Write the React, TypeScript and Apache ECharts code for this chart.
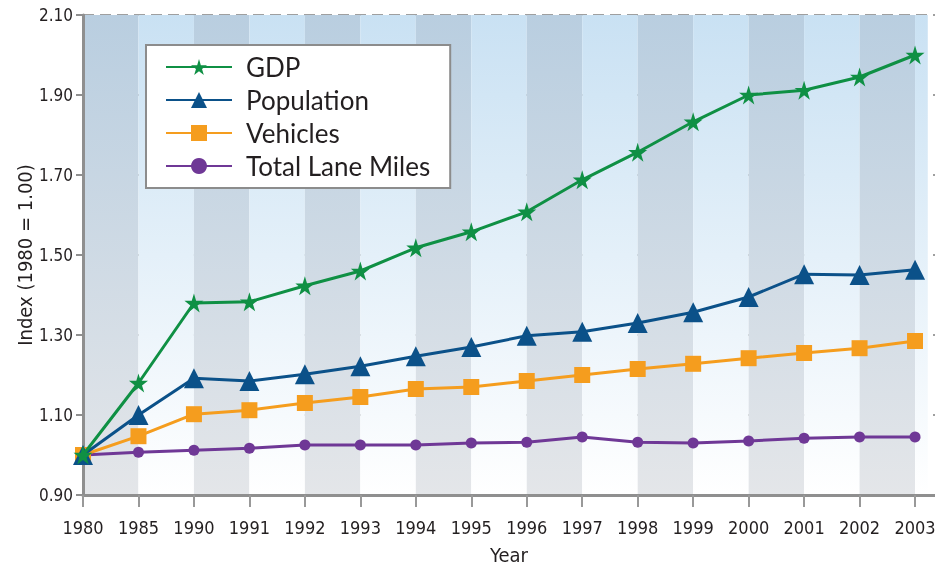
import React, { useEffect, useRef } from "react";
import * as echarts from "echarts";

const years = ["1980", "1985", "1990", "1991", "1992", "1993", "1994", "1995", "1996", "1997", "1998", "1999", "2000", "2001", "2002", "2003"];
const gdp = [1.0, 1.18, 1.38, 1.383, 1.423, 1.46, 1.518, 1.558, 1.608, 1.688, 1.757, 1.833, 1.9, 1.912, 1.945, 2.0];
const population = [1.0, 1.1, 1.192, 1.185, 1.202, 1.222, 1.247, 1.27, 1.298, 1.308, 1.33, 1.357, 1.395, 1.452, 1.45, 1.463];
const vehicles = [1.0, 1.047, 1.102, 1.112, 1.13, 1.145, 1.165, 1.17, 1.185, 1.2, 1.215, 1.228, 1.242, 1.255, 1.267, 1.285];
const laneMiles = [1.0, 1.007, 1.012, 1.017, 1.025, 1.025, 1.025, 1.03, 1.032, 1.045, 1.032, 1.03, 1.035, 1.042, 1.045, 1.045];

const STAR = "path://M50,0 L61,35 L98,35 L68,57 L79,91 L50,70 L21,91 L32,57 L2,35 L39,35 Z";
const FC = "'DejaVu Sans Condensed', 'DejaVu Sans', sans-serif";

export default function App() {
  const ref = useRef<HTMLDivElement>(null);
  useEffect(() => {
    if (!ref.current) return;
    const chart = echarts.init(ref.current, null, { renderer: "svg" });
    const toPts = (arr: number[]) => arr.map((v, i) => [i, v]);
    const lastX = 15.23;
    const bands: any[] = [];
    for (let i = 0; i < years.length; i++) {
      const dark = i % 2 === 0;
      bands.push([
        {
          xAxis: i,
          yAxis: 0.9,
          itemStyle: {
            color: {
              type: "linear", x: 0, y: 0, x2: 0, y2: 1,
              colorStops: dark
                ? [{ offset: 0, color: "#b9cee0" }, { offset: 1, color: "#e4e6e9" }]
                : [{ offset: 0, color: "#c9e1f3" }, { offset: 1, color: "#ffffff" }],
            },
          },
        },
        { xAxis: i === years.length - 1 ? lastX : i + 1, yAxis: 2.1 },
      ]);
    }
    const mk = (name: string, data: number[], color: string, symbol: string, size: number, z: number) => ({
      name,
      type: "line",
      data: toPts(data),
      symbol,
      symbolSize: size,
      z,
      lineStyle: { color, width: 3 },
      itemStyle: { color },
    });
    chart.setOption({
      animation: false,
      grid: { left: 83, right: 0, top: 15, bottom: 74, outerBoundsMode: "none", containLabel: false },
      legend: {
        data: ["GDP", "Population", "Vehicles", "Total Lane Miles"],
        orient: "vertical",
        left: 146,
        top: 45,
        padding: [9, 20, 9, 19],
        itemWidth: 66,
        itemHeight: 20,
        itemGap: 7,
        backgroundColor: "#ffffff",
        borderColor: "#8c8c8c",
        borderWidth: 2,
        borderRadius: 0,
        textStyle: { fontFamily: "Lato, sans-serif", fontSize: 26, color: "#231f20", padding: [0, 0, 0, 9] },
      },
      xAxis: {
        type: "value",
        min: 0,
        max: 15.36,
        interval: 1,
        z: 3,
        splitLine: { show: false },
        axisLine: { lineStyle: { color: "#8f8f8f", width: 3 } },
        axisTick: { show: true, length: 12, lineStyle: { color: "#999999", width: 2 }, customValues: years.map((_, i) => i) },
        axisLabel: {
          customValues: years.map((_, i) => i),
          formatter: (v: number) => years[Math.round(v)] ?? "",
          fontFamily: FC,
          fontSize: 18,
          color: "#231f20",
          margin: 23,
        },
        name: "Year",
        nameLocation: "middle",
        nameGap: 50,
        nameMoveOverlap: false,
        nameTextStyle: { fontFamily: FC, fontSize: 20, color: "#231f20" },
      },
      yAxis: {
        type: "value",
        min: 0.9,
        max: 2.1,
        interval: 0.2,
        z: 1,
        axisLine: { show: true, onZero: false, lineStyle: { color: "#8f8f8f", width: 3 } },
        axisTick: { show: true, length: 7, lineStyle: { color: "#8f8f8f", width: 2 } },
        axisLabel: {
          formatter: (v: number) => v.toFixed(2),
          fontFamily: FC,
          fontSize: 17,
          color: "#231f20",
          margin: 10,
        },
        splitLine: { show: true, lineStyle: { color: "#808080", width: 1.5, type: [11, 6] } },
        name: "Index (1980 = 1.00)",
        nameLocation: "middle",
        nameGap: 48,
        nameRotate: 90,
        nameMoveOverlap: false,
        nameTextStyle: { fontFamily: FC, fontSize: 20, color: "#231f20" },
      },
      series: [
        {
          type: "line",
          data: [],
          z: -1,
          silent: true,
          markArea: { silent: true, data: bands },
        },
        mk("GDP", gdp, "#0f9044", STAR, 19, 6),
        mk("Population", population, "#0b5189", "triangle", 20, 5),
        mk("Vehicles", vehicles, "#f59d1e", "rect", 16, 4),
        mk("Total Lane Miles", laneMiles, "#6f3896", "circle", 11, 3),
      ],
    });
    return () => chart.dispose();
  }, []);
  return <div ref={ref} style={{ position: "fixed", left: 0, top: 0, width: 935, height: 569 }} />;
}
